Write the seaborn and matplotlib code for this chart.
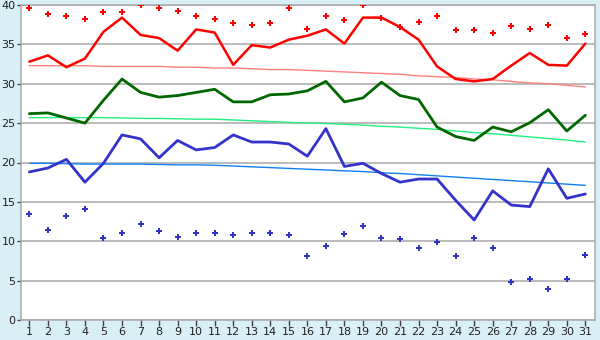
import matplotlib
matplotlib.use("Agg")
import matplotlib.pyplot as plt
import seaborn as sns
import pandas as pd

days = list(range(1, 32))

max_temp = [32.8, 33.6, 32.1, 33.2, 36.6, 38.4, 36.2, 35.8, 34.2, 36.9,
            36.5, 32.4, 34.9, 34.6, 35.6, 36.1, 36.9, 35.1, 38.4, 38.4,
            37.2, 35.6, 32.2, 30.6, 30.3, 30.6, 32.3, 33.9, 32.4, 32.3, 35.1]

mean_temp = [26.2, 26.3, 25.65, 25.0, 27.9, 30.6, 28.9, 28.3, 28.5, 28.9,
             29.3, 27.7, 27.7, 28.6, 28.7, 29.1, 30.3, 27.7, 28.2, 30.2,
             28.5, 28.0, 24.5, 23.3, 22.8, 24.5, 23.9, 25.05, 26.7, 24.0, 26.0]

min_temp = [18.8, 19.3, 20.4, 17.5, 19.9, 23.5, 23.0, 20.6, 22.8, 21.6,
            21.9, 23.5, 22.6, 22.6, 22.35, 20.8, 24.3, 19.5, 19.9, 18.6,
            17.5, 17.9, 17.9, 15.2, 12.7, 16.4, 14.6, 14.4, 19.2, 15.45, 16.0]

record_max = [39.6, 38.8, 38.6, 38.2, 39.1, 39.1, 40.0, 39.6, 39.2, 38.6,
              38.2, 37.7, 37.4, 37.7, 39.6, 37.0, 38.6, 38.1, 40.0, 38.4,
              37.2, 37.8, 38.6, 36.8, 36.8, 36.5, 37.3, 37.0, 37.4, 35.8, 36.3]

record_min = [13.4, 11.4, 13.2, 14.05, 10.4, 11.0, 12.15, 11.3, 10.6, 11.1,
              11.0, 10.75, 11.1, 11.1, 10.75, 8.1, 9.35, 10.9, 11.9, 10.4,
              10.25, 9.2, 9.85, 8.1, 10.4, 9.1, 4.8, 5.2, 3.9, 5.2, 8.2]

normal_max = [32.3, 32.3, 32.3, 32.3, 32.2, 32.2, 32.2, 32.2, 32.1, 32.1,
              32.0, 32.0, 31.9, 31.8, 31.8, 31.7, 31.6, 31.5, 31.4, 31.3,
              31.2, 31.0, 30.9, 30.8, 30.6, 30.5, 30.3, 30.1, 30.0, 29.8, 29.6]

normal_mean = [25.7, 25.7, 25.7, 25.7, 25.7, 25.65, 25.6, 25.6, 25.55, 25.5,
               25.5, 25.4, 25.3, 25.2, 25.1, 25.0, 24.95, 24.85, 24.75, 24.6,
               24.5, 24.35, 24.2, 24.0, 23.8, 23.65, 23.45, 23.25, 23.05, 22.85, 22.6]

normal_min = [19.9, 19.9, 19.85, 19.8, 19.8, 19.8, 19.8, 19.75, 19.7, 19.7,
              19.65, 19.55, 19.45, 19.35, 19.25, 19.15, 19.05, 18.95, 18.85, 18.7,
              18.6, 18.45, 18.3, 18.15, 18.0, 17.85, 17.7, 17.55, 17.4, 17.25, 17.1]

y_ticks = [0, 5, 10, 15, 20, 25, 30, 35, 40]

df = pd.DataFrame({
    "day": days, "max": max_temp, "mean": mean_temp, "min": min_temp,
    "rmax": record_max, "rmin": record_min,
    "nmax": normal_max, "nmean": normal_mean, "nmin": normal_min,
})

sns.set_style("white")
plt.rcParams['font.family'] = ['DejaVu Sans']

bg = "#d9eff6"
fig = plt.figure(figsize=(6, 3.4), dpi=100, facecolor=bg)
ax = fig.add_axes([21/600, 20/340, (595-21)/600, (320-5)/340])
ax.set_facecolor("white")

for v in y_ticks:
    ax.axhline(v, color="#a8a8a8", lw=1.1, zorder=0)

sns.lineplot(data=df, x="day", y="nmax", color="#ff8080", lw=1.0, ax=ax)
sns.lineplot(data=df, x="day", y="nmean", color="#20f080", lw=1.0, ax=ax)
sns.lineplot(data=df, x="day", y="nmin", color="#1080f0", lw=1.0, ax=ax)

sns.lineplot(data=df, x="day", y="max", color="#ff0000", lw=1.8, ax=ax)
sns.lineplot(data=df, x="day", y="mean", color="#006600", lw=2.0, ax=ax)
sns.lineplot(data=df, x="day", y="min", color="#3333cc", lw=2.0, ax=ax)

sns.scatterplot(data=df, x="day", y="rmax", color="#ff0000", marker="P",
                s=24, linewidth=0, ax=ax, zorder=5)
sns.scatterplot(data=df, x="day", y="rmin", color="#3333cc", marker="P",
                s=24, linewidth=0, ax=ax, zorder=5)

ax.set_xlim(0.55, 31.52)
ax.set_ylim(0, 40)
ax.set_xticks(days)
ax.set_xticklabels([str(d) for d in days])
ax.set_yticks(y_ticks)
ax.set_yticklabels([str(v) for v in y_ticks])
ax.set_xlabel("")
ax.set_ylabel("")
ax.tick_params(axis="x", length=4, width=1, color="#404040", pad=1,
               labelsize=8, labelcolor="#202020", direction="out", bottom=True)
ax.tick_params(axis="y", length=3, width=1, color="#404040", pad=1,
               labelsize=8, labelcolor="#202020", direction="out", left=True)

for side in ["left", "bottom", "right", "top"]:
    ax.spines[side].set_visible(True)
    ax.spines[side].set_color("#a8a8a8")
    ax.spines[side].set_linewidth(1.1)

fig.savefig("out.png", dpi=100, facecolor=bg)
